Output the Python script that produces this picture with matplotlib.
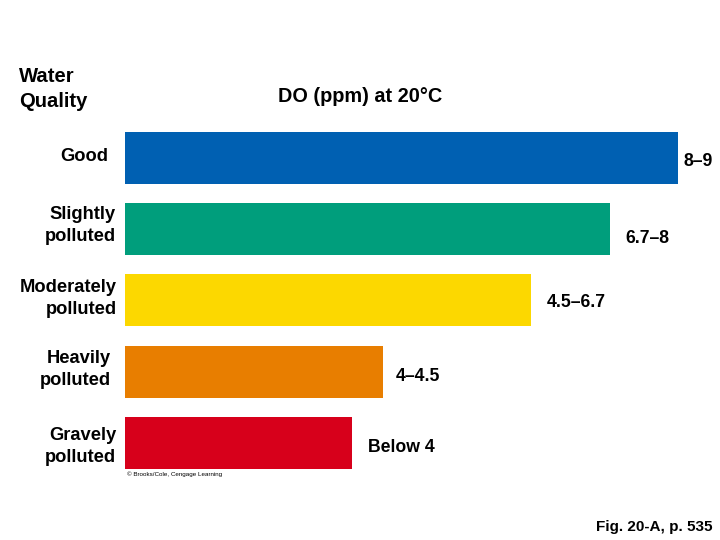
import matplotlib.pyplot as plt
from matplotlib import transforms

plt.rcParams['font.family'] = ['Liberation Sans', 'DejaVu Sans']

categories = ["Good", "Slightly\npolluted", "Moderately\npolluted", "Heavily\npolluted", "Gravely\npolluted"]
do_values = [9.0, 7.9, 6.6, 4.2, 3.7]
range_labels = ["8\u20139", "6.7\u20138", "4.5\u20136.7", "4\u20134.5", "Below 4"]
colors = ["#0060b2", "#009e7c", "#fcd800", "#e87e00", "#d7001b"]

# small hand placement tweaks (in bar units)
label_gap = [0.09, 0.24, 0.27, 0.2, 0.25]
label_dy = [0.05, 0.125, 0.025, 0.065, 0.065]
cat_right = [108, 116, 117, 111, 116]
cat_dy = [-0.02, -0.055, -0.025, -0.035, 0.045]

fig = plt.figure(figsize=(7.2, 5.4), dpi=100)
ax = fig.add_axes([125 / 720, 1 - 480 / 540, 595 / 720, 360 / 540])

y = list(range(len(categories)))
ax.barh(y, do_values, height=0.73, color=colors)
ax.set_xlim(0, 9 * 595 / 553)
ax.set_ylim(4.52, -0.533)
ax.axis("off")

for i, (v, lab) in enumerate(zip(do_values, range_labels)):
    ax.text(v + label_gap[i], i + label_dy[i], lab, ha="left", va="center",
            fontsize=12.7, fontweight="bold")

trans = transforms.blended_transform_factory(fig.transFigure, ax.transData)
for i, cat in enumerate(categories):
    ax.text(cat_right[i] / 720, i + cat_dy[i], cat, transform=trans, ha="right",
            va="center", multialignment="right", fontsize=13.2,
            fontweight="bold", linespacing=1.38)

fig.text(19 / 720, 1 - 89 / 540, "Water\nQuality", ha="left", va="center",
         fontsize=14.6, fontweight="bold", linespacing=1.42)
fig.text(278 / 720, 1 - 97 / 540, "DO (ppm) at 20\u00b0C", ha="left", va="center",
         fontsize=14.3, fontweight="bold")
fig.text(127 / 720, 1 - 474 / 540, "\u00a9 Brooks/Cole, Cengage Learning",
         ha="left", va="center", fontsize=4.5)
fig.text(713 / 720, 1 - 527 / 540, "Fig. 20-A, p. 535", ha="right", va="center",
         fontsize=11, fontweight="bold", fontstretch="condensed",
         family=["Liberation Sans Narrow", "Liberation Sans", "DejaVu Sans"])

fig.savefig("out.png", dpi=100)
